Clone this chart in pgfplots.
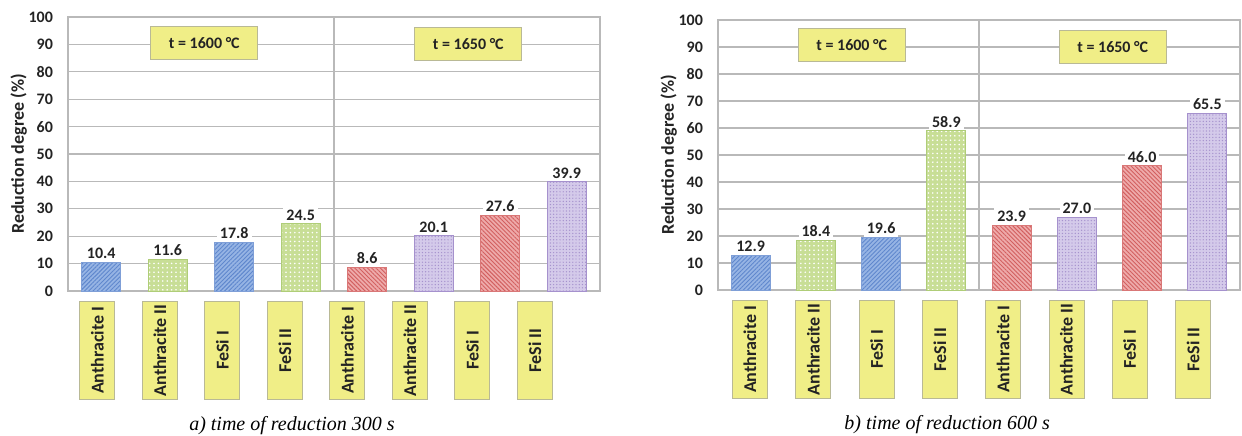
\documentclass[border=0pt]{standalone}
\usepackage{fontspec}
\setmainfont{Carlito}
\newfontfamily\capfont{Liberation Serif}
\usepackage{pgfplots}
\pgfplotsset{compat=1.18}
\usetikzlibrary{patterns.meta}

\definecolor{bluefill}{RGB}{150,180,228}
\definecolor{blueline}{RGB}{95,135,205}
\definecolor{greenfill}{RGB}{200,222,150}
\definecolor{greenline}{RGB}{175,205,120}
\definecolor{redfill}{RGB}{238,170,170}
\definecolor{redline}{RGB}{210,95,95}
\definecolor{purplefill}{RGB}{212,202,234}
\definecolor{purpleline}{RGB}{165,145,205}
\definecolor{boxyellow}{RGB}{240,238,135}
\definecolor{boxborder}{RGB}{185,185,150}
\definecolor{gridgray}{RGB}{185,185,185}
\definecolor{labeltext}{RGB}{35,35,35}

\tikzset{
  tbox/.style={fill=boxyellow, draw=boxborder, line width=0.6pt, minimum width=53.5pt,
    minimum height=16.5pt, inner sep=0pt, font=\bfseries\fontsize{8}{9}\selectfont, text=labeltext},
}

\pgfplotsset{
  panel/.style={
    scale only axis,
    ymin=0, ymax=100, ytick={0,10,...,100},
    xmin=-0.5, xmax=7.5,
    ymajorgrids,
    major grid style={gridgray, line width=0.6pt},
    axis line style={gridgray, line width=0.6pt},
    major tick length=0pt,
    ybar, bar width=19.5pt, bar shift=0pt,
    /pgf/number format/assume math mode=true,
    tick label style={font=\bfseries\fontsize{8}{9}\selectfont, text=labeltext},
    yticklabel style={xshift=-4pt},
    ylabel={Reduction degree (\%)},
    ylabel style={font=\bfseries\fontsize{9}{10}\selectfont, text=labeltext, yshift=-6pt},
    xticklabel style={rotate=90, anchor=east, fill=boxyellow, draw=boxborder,
      minimum width=49pt, minimum height=17.5pt, inner sep=0pt, xshift=-5pt,
      font=\bfseries\fontsize{9}{10}\selectfont},
    xticklabels={Anthracite I, Anthracite II, FeSi I, FeSi II, Anthracite I, Anthracite II, FeSi I, FeSi II},
    nodes near coords={\pgfmathprintnumber[fixed,fixed zerofill,precision=1]{\pgfplotspointmeta}},
    nodes near coords style={font=\bfseries\fontsize{8}{9}\selectfont, fill=white, inner sep=1.5pt, text=labeltext},
    clip=false,
  },
  bluebar/.style={fill=bluefill, draw=blueline!80, line width=0.5pt,
    postaction={pattern color=blueline, pattern={Lines[angle=45,distance=1.5pt,line width=0.45pt]}}},
  greenbar/.style={fill=greenfill, draw=greenline, line width=0.5pt,
    postaction={pattern color=white, pattern={Dots[distance=2.2pt,radius=0.45pt]}}},
  redbar/.style={fill=redfill, draw=redline!85, line width=0.5pt,
    postaction={pattern color=redline, pattern={Lines[angle=-45,distance=1.5pt,line width=0.45pt]}}},
  purplebar/.style={fill=purplefill, draw=purpleline, line width=0.5pt,
    postaction={pattern color=purpleline, pattern={Dots[distance=1.6pt,radius=0.35pt]}}},
}

\begin{document}
\begin{tikzpicture}
\path[use as bounding box] (0,0) rectangle (621pt,217.5pt);

% Panel a
\begin{axis}[panel, at={(34pt,72pt)}, anchor=south west,
  width=266pt, height=137pt,
  xtick={-0.06,0.88,1.82,2.76,3.70,4.64,5.58,6.52}]
\addplot[bluebar] coordinates {(0,10.4) (2,17.8)};
\addplot[greenbar] coordinates {(1,11.6) (3,24.5)};
\addplot[redbar] coordinates {(4,8.6) (6,27.6)};
\addplot[purplebar] coordinates {(5,20.1) (7,39.9)};
\draw[gridgray, line width=0.6pt] (axis cs:3.5,0) -- (axis cs:3.5,100);
\node[tbox] at (axis cs:1.55,90.5) {t = 1600 °C};
\node[tbox] at (axis cs:5.52,90.2) {t = 1650 °C};
\node[font=\capfont\itshape\fontsize{10}{12}\selectfont] at (rel axis cs:0.421,-0.49) {a) time of reduction 300 s};
\end{axis}

% Panel b
\begin{axis}[panel, at={(359pt,72.5pt)}, anchor=south west,
  width=261pt, height=135pt,
  xtick={-0.01,0.96,1.93,2.90,3.87,4.84,5.81,6.78}]
\addplot[bluebar] coordinates {(0,12.9) (2,19.6)};
\addplot[greenbar] coordinates {(1,18.4) (3,58.9)};
\addplot[redbar] coordinates {(4,23.9) (6,46.0)};
\addplot[purplebar] coordinates {(5,27.0) (7,65.5)};
\draw[gridgray, line width=0.6pt] (axis cs:3.5,0) -- (axis cs:3.5,100);
\node[tbox] at (axis cs:1.55,90.7) {t = 1600 °C};
\node[tbox] at (axis cs:5.55,90.0) {t = 1650 °C};
\node[font=\capfont\itshape\fontsize{10}{12}\selectfont] at (rel axis cs:0.439,-0.50) {b) time of reduction 600 s};
\end{axis}
\end{tikzpicture}
\end{document}
